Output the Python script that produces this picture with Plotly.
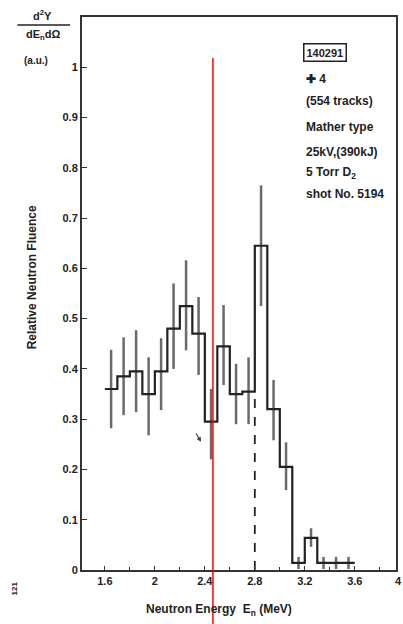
import plotly.graph_objects as go

# ---- data ----
bin_edges = [1.6, 1.7, 1.8, 1.9, 2.0, 2.1, 2.2, 2.3, 2.4, 2.5, 2.6,
             2.7, 2.8, 2.9, 3.0, 3.1, 3.2, 3.3, 3.4, 3.5, 3.6]
fluence = [0.36, 0.385, 0.395, 0.35, 0.395, 0.48, 0.525, 0.47, 0.295, 0.445,
           0.35, 0.355, 0.645, 0.32, 0.205, 0.014, 0.064, 0.014, 0.014, 0.014]
err_up = [0.078, 0.078, 0.082, 0.073, 0.066, 0.09, 0.091, 0.073, 0.065, 0.082,
          0.06, 0.068, 0.12, 0.058, 0.049, 0.012, 0.019, 0.012, 0.012, 0.012]
err_down = [0.078, 0.077, 0.081, 0.082, 0.077, 0.08, 0.088, 0.082, 0.075, 0.077,
            0.06, 0.065, 0.12, 0.062, 0.046, 0.012, 0.018, 0.012, 0.012, 0.012]
x_tick_vals = [1.6, 2.0, 2.4, 2.8, 3.2, 3.6]
x_tick_text = ["1.6", "2", "2.4", "2.8", "3.2", "3.6"]
y_tick_vals = [0, 0.1, 0.2, 0.3, 0.4, 0.5, 0.6, 0.7, 0.8, 0.9, 1.0]
y_tick_text = ["0", "0.1", "0.2", "0.3", "0.4", "0.5", "0.6", "0.7", "0.8", "0.9", "1"]
dashed_energy = 2.8
red_marker_energy = 2.465
legend_lines = ["(554 tracks)", "Mather type", "25kV,(390kJ)",
                "5 Torr D<sub>2</sub>", "shot No. 5194"]

FONT = "Liberation Sans"
INK = "#222222"

centers = [(a + b) / 2 for a, b in zip(bin_edges[:-1], bin_edges[1:])]

fig = go.Figure()

# error bars
fig.add_trace(go.Scatter(
    x=centers, y=fluence, mode="markers",
    marker=dict(size=1, color="rgba(0,0,0,0)"),
    error_y=dict(type="data", symmetric=False, array=err_up, arrayminus=err_down,
                 width=0, thickness=2.5, color="#6a6a6a"),
    hoverinfo="skip", showlegend=False))

# histogram steps
fig.add_trace(go.Scatter(
    x=bin_edges, y=fluence + [fluence[-1]], mode="lines",
    line=dict(shape="hv", color=INK, width=2.2), showlegend=False))

# dashed marker at 2.8 MeV
dash_idx = bin_edges.index(dashed_energy) - 1
fig.add_trace(go.Scatter(
    x=[dashed_energy, dashed_energy], y=[0, fluence[dash_idx]], mode="lines",
    line=dict(color=INK, width=1.8, dash="dash"), showlegend=False))

# red vertical line
fig.add_shape(type="line", xref="x", yref="paper",
              x0=red_marker_energy, x1=red_marker_energy, y0=-0.1, y1=0.926,
              line=dict(color="red", width=1.5))

fig.update_layout(
    width=403, height=624, autosize=False,
    margin=dict(l=82, r=5, t=17, b=54),
    paper_bgcolor="white", plot_bgcolor="white",
    font=dict(family=FONT, color=INK, size=11),
    xaxis=dict(range=[1.417, 3.93], showgrid=False, zeroline=False,
               showline=True, mirror=True, linecolor="#333333", linewidth=2,
               ticks="inside", ticklen=4, tickcolor="#333333",
               tickvals=x_tick_vals, ticktext=[f"<b>{t}</b>" for t in x_tick_text],
               minor=dict(dtick=0.2, tick0=1.6, ticks="inside", ticklen=3,
                          tickcolor="#333333"),
               tickfont=dict(size=11, family=FONT, color=INK)),
    yaxis=dict(range=[0, 1.1], showgrid=False, zeroline=False,
               showline=True, mirror=True, linecolor="#333333", linewidth=2,
               ticks="inside", ticklen=5, tickcolor="#333333",
               tickvals=y_tick_vals, ticktext=[f"<b>{t}</b>" for t in y_tick_text],
               tickfont=dict(size=11, family=FONT, color=INK)),
)

def px(xp, yp, text, size=12, bold=True, xanchor="center", angle=0):
    t = f"<b>{text}</b>" if bold else text
    fig.add_annotation(xref="paper", yref="paper",
                       x=(xp - 82) / 316, y=(570 - yp) / 553,
                       text=t, showarrow=False, xanchor=xanchor, yanchor="middle",
                       textangle=angle, font=dict(family=FONT, size=size, color=INK))

# top-left ordinate label
px(42, 15, "d<sup>2</sup>Y", size=11)
px(43, 35, "dE<sub>n</sub>dΩ", size=11)
px(36, 60, "(a.u.)", size=10)
fig.add_shape(type="line", xref="paper", yref="paper",
              x0=(17 - 82) / 316, x1=(70 - 82) / 316,
              y0=(570 - 25) / 553, y1=(570 - 25) / 553,
              line=dict(color=INK, width=1.5))

# axis titles
px(32, 277, "Relative Neutron Fluence", size=12, angle=-90)
px(220, 610, "Neutron Energy  E<sub>n</sub> (MeV)", size=12)
px(401, 581, "4", size=11)
px(14, 588, "121", size=8, angle=-90)

# boxed id
fig.add_annotation(xref="paper", yref="paper", x=(349 - 82) / 316, y=(570 - 43) / 553,
                   text="<b>140291</b>", showarrow=False,
                   font=dict(family=FONT, size=11, color=INK),
                   bordercolor=INK, borderwidth=1.5, borderpad=2)

# legend block
px(305, 79, "✚ 4", size=12, xanchor="left")
for i, line in enumerate(legend_lines):
    yp = [101, 127, 152, 173, 194][i]
    px(305, yp, line, size=12, xanchor="left")

# small arrow near the dip
fig.add_annotation(xref="x", yref="y", x=2.37, y=0.255, ax=-6, ay=-10,
                   text="", showarrow=True, arrowhead=2, arrowsize=0.8,
                   arrowwidth=1.2, arrowcolor="#444444")

fig.write_html("out.html")
